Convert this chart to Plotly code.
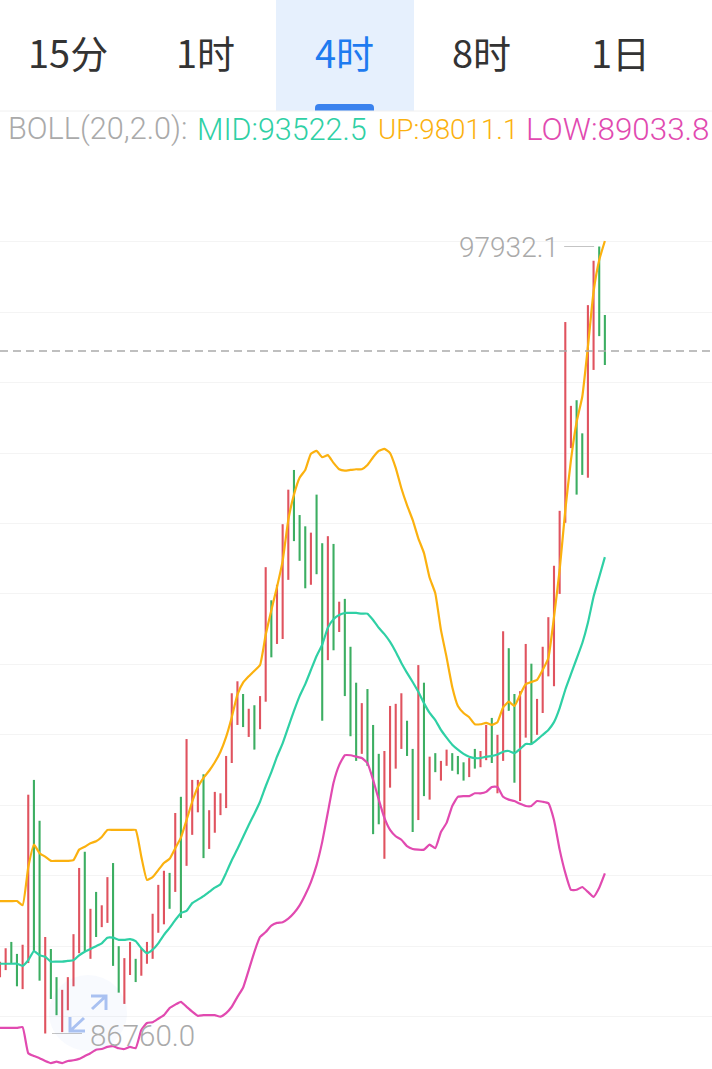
import plotly.graph_objects as go

W, H = 712, 1069

tabs = ["15分", "1时", "4时", "8时", "1日"]
legend_prefix = "BOLL(20,2.0):"
mid_last, up_last, low_last = 93522.5, 98011.1, 89033.8
last_price = 96449

highs = [87780, 87970, 88060, 87890, 88020, 90150, 90360, 89780, 88130, 87960,
         87560, 87380, 87560, 88170, 89110, 89340, 88530, 88770, 88580, 88980,
         89180, 88000, 87830, 88060, 87820, 87970, 88060, 88460, 88870, 89070,
         89040, 89890, 90120, 90940, 90360, 90360, 90440, 89930, 90190, 90170,
         90700, 91590, 91760, 91580, 91370, 91420, 91550, 93380, 92910, 93130,
         93990, 94480, 94760, 94120, 93960, 93870, 94410, 93720, 93820, 93710,
         92890, 92930, 92250, 91740, 91450, 91650, 91140, 90730, 90770, 91410,
         91440, 91590, 91200, 90800, 91990, 91740, 90690, 90740, 90630, 90790,
         90740, 90700, 90610, 90670, 90800, 90770, 91140, 91240, 91000, 92470,
         92230, 91580, 91620, 92290, 92010, 91510, 92250, 92670, 93400, 94180,
         96860, 95670, 95750, 95280, 97100, 97730, 97932.1, 96960]
lows = [87560, 87660, 87760, 87430, 87390, 87760, 87920, 87510, 86760.0, 87250,
        87020, 86780, 87090, 87430, 87900, 87930, 87820, 88130, 88270, 88330,
        87720, 87340, 87180, 87590, 87490, 87580, 87750, 87820, 88190, 88310,
        88530, 88770, 88400, 89140, 89580, 89900, 89250, 89380, 89610, 89860,
        89960, 90600, 91140, 91110, 90970, 90790, 91080, 91470, 92100, 92290,
        92360, 93200, 93750, 93470, 93080, 93130, 93280, 91200, 92060, 92200,
        92460, 91550, 90980, 90630, 90730, 90560, 89590, 89730, 89240, 90250,
        90520, 90800, 90700, 89620, 89790, 90130, 90080, 90470, 90350, 90560,
        90490, 90440, 90350, 90400, 90520, 90540, 90640, 90600, 90170, 90630,
        91340, 90320, 90060, 90960, 90870, 91000, 91310, 91830, 91690, 93000,
        94010, 95070, 94410, 94690, 94650, 96180, 96660, 96250]
# 1 = red bar (up), 0 = green bar (down)
up = [1, 1, 0, 0, 1, 1, 0, 0, 1, 0, 0, 1, 1, 1, 1, 0, 1, 0, 1, 1,
      0, 0, 1, 1, 0, 1, 1, 1, 1, 1, 0, 1, 0, 1, 1, 1, 0, 1, 1, 1,
      1, 1, 1, 0, 1, 0, 1, 1, 0, 1, 1, 1, 0, 0, 0, 1, 0, 0, 1, 0,
      1, 0, 0, 0, 1, 0, 0, 0, 1, 1, 1, 1, 0, 0, 1, 0, 1, 0, 1, 1,
      0, 0, 0, 1, 0, 1, 1, 0, 1, 1, 0, 0, 1, 1, 0, 1, 1, 1, 1, 1,
      1, 1, 0, 0, 1, 1, 0, 0]

boll_up = [88640, 88640, 88640, 88640, 88580, 89120, 89440, 89320, 89270, 89210,
           89210, 89210, 89210, 89220, 89370, 89410, 89460, 89490, 89550, 89650,
           89650, 89650, 89650, 89650, 89650, 89270, 88940, 88980, 89080, 89180,
           89240, 89390, 89540, 89790, 90050, 90260, 90390, 90490, 90610, 90760,
           90970, 91250, 91570, 91740, 91830, 91910, 91990, 92420, 92770, 93100,
           93470, 94050, 94410, 94650, 94760, 94990, 95030, 94940, 94970, 94860,
           94770, 94750, 94760, 94770, 94770, 94830, 94940, 95030, 95060, 95000,
           94790, 94500, 94260, 94050, 93790, 93580, 93230, 93010, 92490, 92100,
           91680, 91410, 91310, 91250, 91150, 91150, 91170, 91140, 91180, 91390,
           91470, 91410, 91570, 91720, 91750, 91780, 91920, 92090, 92670, 93340,
           94190, 94900, 95440, 95800, 96510, 97290, 97740, up_last]
boll_mid = [87750, 87750, 87750, 87750, 87720, 87800, 87930, 87870, 87850, 87780,
            87780, 87780, 87790, 87800, 87870, 87920, 87960, 88000, 88040, 88120,
            88120, 88090, 88090, 88100, 88070, 87970, 87900, 87950, 88040, 88160,
            88260, 88370, 88470, 88500, 88610, 88660, 88710, 88770, 88830, 88880,
            89040, 89220, 89380, 89550, 89720, 89880, 90050, 90270, 90470, 90690,
            90880, 91110, 91340, 91550, 91720, 91920, 92120, 92280, 92520, 92640,
            92700, 92730, 92730, 92730, 92720, 92720, 92630, 92520, 92430, 92320,
            92180, 92020, 91880, 91750, 91610, 91450, 91310, 91210, 91070, 90960,
            90860, 90790, 90730, 90690, 90670, 90670, 90690, 90700, 90720, 90760,
            90770, 90740, 90800, 90870, 90870, 90930, 91000, 91070, 91180, 91380,
            91640, 91860, 92080, 92300, 92590, 92960, 93240, mid_last]
boll_low = [86840, 86840, 86840, 86840, 86850, 86480, 86440, 86410, 86370, 86340,
            86360, 86340, 86370, 86380, 86400, 86440, 86480, 86530, 86540, 86570,
            86580, 86550, 86540, 86570, 86550, 86810, 86910, 86920, 86970, 87020,
            87120, 87170, 87210, 87140, 87070, 87010, 87020, 87020, 87020, 87000,
            87050, 87140, 87280, 87410, 87660, 87920, 88130, 88200, 88290, 88330,
            88340, 88390, 88470, 88580, 88730, 88910, 89150, 89480, 89900, 90320,
            90570, 90710, 90710, 90690, 90670, 90600, 90360, 90080, 89820, 89650,
            89560, 89510, 89420, 89380, 89370, 89370, 89440, 89390, 89620, 89750,
            89990, 90120, 90130, 90130, 90170, 90170, 90190, 90260, 90260, 90120,
            90080, 90060, 90020, 89990, 89990, 90060, 90050, 90030, 89790, 89370,
            89040, 88800, 88800, 88840, 88770, 88700, 88830, low_last]

grid_vals = list(range(87000, 99000, 1000))

RED = "#e0535f"
GREEN = "#3cae62"
TEAL = "#2fd0a5"
AMBER = "#fbb10f"
PINK = "#e14ab0"
GREY = "#aaaaaa"

x = list(range(len(highs)))
opens = [l if u else h for h, l, u in zip(highs, lows, up)]
closes = [h if u else l for h, l, u in zip(highs, lows, up)]


def px(v):
    return v / W


def py(v):
    return 1 - v / H


fig = go.Figure()

fig.add_trace(go.Ohlc(x=x, open=opens, high=highs, low=lows, close=closes, tickwidth=0,
                      increasing=dict(line=dict(color=RED, width=2.1)),
                      decreasing=dict(line=dict(color=GREEN, width=2.1))))
for vals, color in [(boll_mid, TEAL), (boll_up, AMBER), (boll_low, PINK)]:
    fig.add_trace(go.Scatter(x=x, y=vals, mode="lines", line=dict(color=color, width=2.2, shape="spline", smoothing=0.4)))

shapes = [
    # selected tab
    dict(type="rect", xref="paper", yref="paper", x0=px(276), x1=px(414), y0=py(0), y1=py(111),
         fillcolor="#e6f0fd", line_width=0, layer="below"),
    dict(type="path", xref="paper", yref="paper", fillcolor="#3a82ee", line_width=0,
         path=f"M {px(315)} {py(111)} L {px(315)} {py(108)} Q {px(315)} {py(104)} {px(319)} {py(104)} "
              f"L {px(370)} {py(104)} Q {px(374)} {py(104)} {px(374)} {py(108)} L {px(374)} {py(111)} Z"),
    dict(type="line", xref="paper", yref="paper", x0=0, x1=1, y0=py(111), y1=py(111),
         line=dict(color="#f0f0f0", width=1)),
    # last price
    dict(type="line", xref="paper", yref="y", x0=0, x1=1, y0=last_price, y1=last_price,
         line=dict(color=GREY, width=1.6, dash="8px,5px")),
    # max / min leaders
    dict(type="line", xref="x", yref="y", x0=99.8, x1=105.1, y0=max(highs), y1=max(highs),
         line=dict(color="#c4c4c4", width=1)),
    dict(type="line", xref="x", yref="y", x0=9.2, x1=14.5, y0=min(lows), y1=min(lows),
         line=dict(color="#c4c4c4", width=1)),
    # zoom button
    dict(type="circle", xref="paper", yref="paper", x0=px(49), x1=px(127), y0=py(975), y1=py(1051),
         fillcolor="rgba(70,130,235,0.04)", line_width=0),
    dict(type="path", xref="paper", yref="paper", line=dict(color="#a9c1f1", width=3),
         path=f"M {px(91)} {py(996)} L {px(106)} {py(996)} L {px(106)} {py(1010)} "
              f"M {px(106)} {py(996)} L {px(92)} {py(1009)}"),
    dict(type="path", xref="paper", yref="paper", line=dict(color="#a9c1f1", width=3),
         path=f"M {px(70)} {py(1017)} L {px(70)} {py(1031)} L {px(85)} {py(1031)} "
              f"M {px(70)} {py(1031)} L {px(84)} {py(1018)}"),
]

annotations = []
for name, cx in zip(tabs, [68, 205, 344, 481, 620]):
    annotations.append(dict(text=name, xref="paper", yref="paper", x=px(cx), y=py(55), showarrow=False,
                            xanchor="center", yanchor="middle", yshift=4,
                            font=dict(family="Noto Sans CJK SC", size=38, color="#1e7bf0" if name == "4时" else "#333333")))

legend = [(legend_prefix, 8, GREY, 30.7),
          (f"MID:{mid_last}", 197, TEAL, 30.5),
          (f"UP:{up_last}", 378, AMBER, 27.8),
          (f"LOW:{low_last}", 526, PINK, 31.4)]
for text, left, color, size in legend:
    annotations.append(dict(text=text, xref="paper", yref="paper", x=px(left), y=py(130), showarrow=False,
                            xanchor="left", yanchor="middle", xshift=-2, yshift=1,
                            font=dict(family="Roboto", size=size, color=color, weight=300)))

annotations.append(dict(text=str(max(highs)), xref="paper", yref="y", x=px(459), y=max(highs), showarrow=False,
                        xanchor="left", yanchor="middle", xshift=-2, yshift=-1,
                        font=dict(family="Roboto", size=28, color=GREY, weight=300)))
annotations.append(dict(text=f"{min(lows):.1f}", xref="paper", yref="y", x=px(90), y=min(lows), showarrow=False,
                        xanchor="left", yanchor="middle", xshift=-2, yshift=-2,
                        font=dict(family="Roboto", size=29.5, color=GREY, weight=300)))

fig.update_layout(width=W, height=H, margin=dict(l=0, r=0, t=0, b=0), showlegend=False, hovermode=False,
                  paper_bgcolor="white", plot_bgcolor="white", shapes=shapes, annotations=annotations)
fig.update_xaxes(range=[0, W / 5.653], visible=False, rangeslider_visible=False, fixedrange=True)
fig.update_yaxes(range=[86256, 101431.6], tickvals=grid_vals, showticklabels=False, showgrid=True,
                 gridcolor="#f4f4f4", gridwidth=1, zeroline=False, fixedrange=True, showline=False)

fig.write_html("out.html", config=dict(displayModeBar=False),
               post_script="document.body.style.margin='0';document.body.style.overflow='hidden';")
